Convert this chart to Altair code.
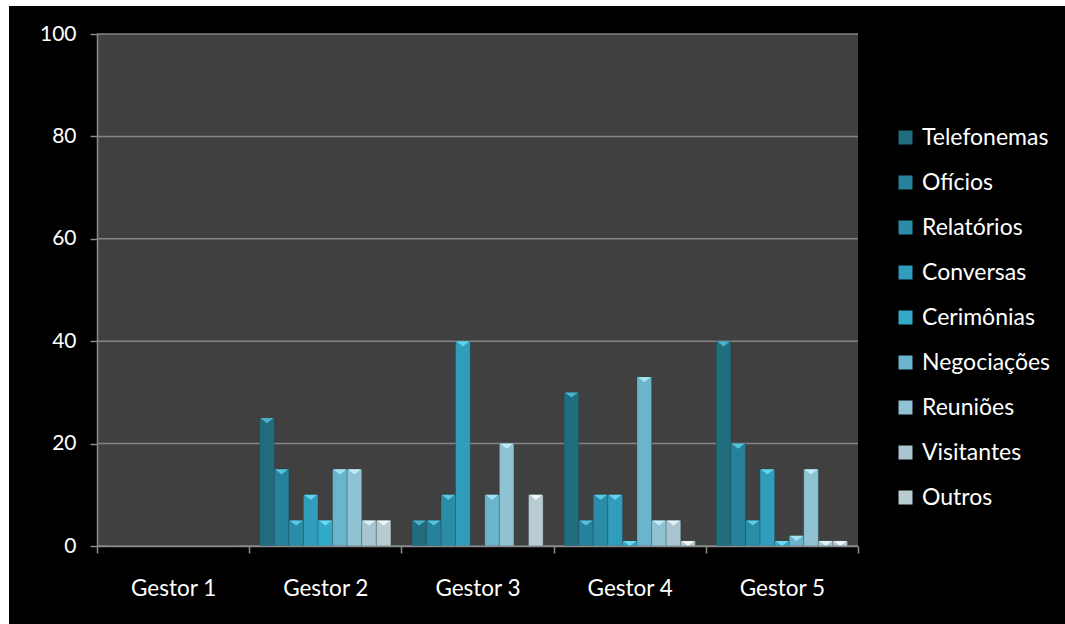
import altair as alt
import pandas as pd

gestores = ["Gestor 1", "Gestor 2", "Gestor 3", "Gestor 4", "Gestor 5"]
categorias = ["Telefonemas", "Ofícios", "Relatórios", "Conversas", "Cerimônias",
              "Negociações", "Reuniões", "Visitantes", "Outros"]
cores = ["#216d80", "#26819a", "#2a8ca6", "#2f9dbb", "#33a9c9",
         "#6ab5cc", "#8fc2d3", "#a9c6d0", "#b8cbd1"]
cores_topo = ["#4fb6cf", "#58c6e0", "#5ccde6", "#66d6ee", "#6fdcf2",
              "#a6e6f5", "#c4eef8", "#e4f4f8", "#f2f8fa"]

# values per gestor, in category order
gestor1 = [0, 0, 0, 0, 0, 0, 0, 0, 0]
gestor2 = [25, 15, 5, 10, 5, 15, 15, 5, 5]
gestor3 = [5, 5, 10, 40, 0, 10, 20, 0, 10]
gestor4 = [30, 5, 10, 10, 1, 33, 5, 5, 1]
gestor5 = [40, 20, 5, 15, 1, 2, 15, 1, 1]
y_ticks = [0, 20, 40, 60, 80, 100]

rows = []
for g, vals in zip(gestores, [gestor1, gestor2, gestor3, gestor4, gestor5]):
    for i, (c, v) in enumerate(zip(categorias, vals)):
        rows.append({"gestor": g, "categoria": c, "ordem": i, "valor": v})
df = pd.DataFrame(rows)
grid_df = pd.DataFrame({"v": y_ticks})
one = pd.DataFrame({"a": [0]})

W, H = 761, 512
FONT = "Lato"

axis_style = dict(zindex=1, domainColor="#8a8a8a", domainWidth=1.5, tickColor="#8a8a8a",
                  tickSize=7, tickWidth=1.5, labelColor="white",
                  labelFont=FONT, grid=False)

black_bg = alt.Chart(one).mark_rect(color="black").encode(
    x=alt.value(-88), x2=alt.value(968), y=alt.value(-28), y2=alt.value(590)
)
plot_bg = alt.Chart(one).mark_rect(color="#404040").encode(
    x=alt.value(0), x2=alt.value(W), y=alt.value(0), y2=alt.value(H)
)
grid = alt.Chart(grid_df).mark_rule(color="#858585", strokeWidth=1.5).encode(
    y=alt.Y("v:Q", scale=alt.Scale(domain=[0, 100])),
    x=alt.value(0), x2=alt.value(W)
)

x_enc = alt.X("gestor:N", sort=gestores, title=None,
              scale=alt.Scale(paddingInner=0, paddingOuter=0),
              axis=alt.Axis(labelAngle=0, tickBand="extent", labelPadding=24,
                            labelFontSize=22.5, **axis_style))
xo_enc = alt.XOffset("categoria:N", sort=categorias,
                     scale=alt.Scale(paddingOuter=0.72, paddingInner=0))
y_enc = alt.Y("valor:Q", scale=alt.Scale(domain=[0, 100]), title=None,
              axis=alt.Axis(values=y_ticks, labelPadding=14, labelFontSize=21, **axis_style))

bars = alt.Chart(df).mark_bar(stroke="#1a3a44", strokeWidth=0.5, strokeOpacity=0.5).encode(
    x=x_enc, xOffset=xo_enc, y=y_enc,
    color=alt.Color("categoria:N", sort=categorias,
                    scale=alt.Scale(domain=categorias, range=cores),
                    legend=alt.Legend(title=None, orient="none", legendX=797, legendY=92,
                                      symbolType="square", symbolSize=196,
                                      symbolStrokeWidth=0, labelFontSize=23,
                                      labelColor="white", labelFont=FONT,
                                      labelOffset=5, rowPadding=21)),
)

tops = alt.Chart(df).transform_filter("datum.valor > 0").mark_point(
    shape="M-1,0L1,0L0,0.8Z", filled=True, opacity=0.95, size=169
).encode(
    x=x_enc, xOffset=xo_enc, y=y_enc,
    fill=alt.Fill("categoria:N", sort=categorias,
                  scale=alt.Scale(domain=categorias, range=cores_topo), legend=None),
)

chart = alt.layer(black_bg, plot_bg, grid, bars, tops).resolve_scale(
    fill="independent"
).properties(
    width=W, height=H,
    padding={"left": 9, "top": 6, "right": 0, "bottom": 0},
    background="white",
).configure_view(stroke=None)

chart.save("out.html", embed_options={"renderer": "svg", "actions": False})
